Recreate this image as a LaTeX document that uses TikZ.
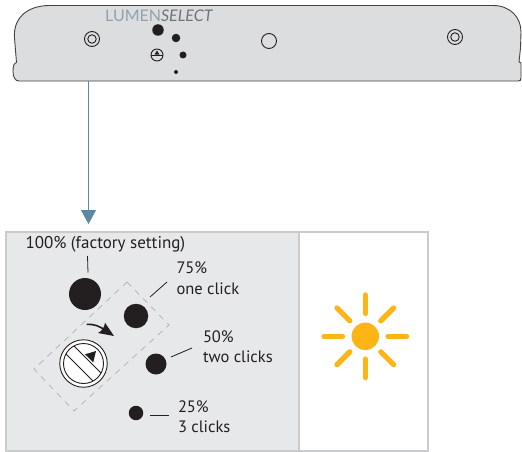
\documentclass[tikz,border=0pt]{standalone}
\usepackage{fontspec}
\setmainfont{PT Sans}
\newfontfamily\brandfont{Lato}
\usetikzlibrary{arrows.meta}
\definecolor{ink}{HTML}{231F20}
\definecolor{housing}{HTML}{DCDDDF}
\definecolor{panelfill}{HTML}{E7E8EA}
\definecolor{panelline}{HTML}{C9CBCD}
\definecolor{steel}{HTML}{5E87A3}
\definecolor{brandblue}{HTML}{8FA3AF}
\definecolor{brandgrey}{HTML}{6D7479}
\definecolor{sunny}{HTML}{FDB515}
\tikzset{
  panel/.style={draw=panelline,line width=2.4pt},
  dot/.style={circle,fill=ink,inner sep=0pt,outer sep=0pt,minimum size=#1},
  ring/.style={circle,draw=ink,line width=0.9pt,inner sep=0pt,minimum size=#1},
  label/.style={anchor=base west,inner sep=0pt,outer sep=0pt,text=ink,font=\fontsize{16.5}{18}\selectfont},
  leader/.style={draw=ink,line width=0.8pt},
  ray/.style={draw=sunny,line width=5.3pt,line cap=round},
}
\begin{document}
\begin{tikzpicture}[x=1pt,y=-1pt]
\useasboundingbox (0,0) rectangle (522,452);
% housing
\draw[fill=housing,draw=ink!85,line width=0.9pt]
  (50,5.5) -- (493,5.5) .. controls (510,5.5) and (521,17) .. (521,32)
  -- (520.5,48) -- (519,62) -- (521,63) -- (521,78) .. controls (521,80.5) and (520,81) .. (518,81)
  -- (19,81) .. controls (15,81) and (13,77) .. (13,71)
  .. controls (13,66) and (14,63) .. (16.5,62.5) -- (14.5,38)
  .. controls (13,20) and (25,5.5) .. (50,5.5) -- cycle;
\node[anchor=base west,inner sep=0pt,font=\brandfont\fontsize{16}{16}\selectfont] (brand) at (105,21.5)
  {\textcolor{brandblue}{LUMEN}\textcolor{brandgrey}{\itshape SELECT}};
\node[ring=15pt] (mountL) at (92,39) {};
\node[ring=8.5pt] (mountLi) at (92,39) {};
\node[ring=15pt] (mountM) at (269,41) {};
\node[ring=15pt] (mountR) at (455,37) {};
\node[ring=8.5pt] (mountRi) at (455,37) {};
\node[dot=11.5pt] (h100) at (158,30) {};
\node[dot=8.5pt] (h75) at (176,38) {};
\node[dot=7pt] (h50) at (183,55) {};
\node[dot=4pt] (h25) at (176,72) {};
\node[ring=12pt] (hknob) at (157,55) {};
\draw[ink,line width=0.8pt] (hknob.west) -- (hknob.east);
\fill[ink] (157,50.5) -- (154.5,54.6) -- (159.5,54.6) -- cycle;
% panels
\node[panel,fill=panelfill,anchor=north west,inner sep=0pt,minimum width=293pt,minimum height=219pt] (left) at (5,231) {};
\node[panel,fill=white,anchor=north west,inner sep=0pt,minimum width=129pt,minimum height=219pt] (right) at (298,231) {};
% connector
\coordinate (armtop) at (88.5,81);
\coordinate (armtip) at (88.5,224);
\draw[steel,line width=0.9pt,-{Triangle[width=15pt,length=14pt]}] (armtop) -- (armtip);
% dashed carrier
\draw[panelline!65!ink!70,line width=0.7pt,dash pattern=on 6pt off 5.5pt]
  (127,282) -- (169,325) -- (74,411) -- (34,369) -- cycle;
% dots
\node[dot=32pt] (d100) at (85,294) {};
\node[dot=24.5pt] (d75) at (136,316) {};
\node[dot=21pt] (d50) at (156,364) {};
\node[dot=14.5pt] (d25) at (136,413) {};
% labels
\node[label,font=\fontsize{17}{18}\selectfont] (t100) at (25.5,248) {100\% (factory setting)};
\node[label] (t75) at (176.5,273.5) {75\%};
\node[label] (t75b) at (176.5,294) {one click};
\node[label] (t50) at (203,342) {50\%};
\node[label] (t50b) at (203,362.5) {two clicks};
\node[label] (t25) at (178,412) {25\%};
\node[label] (t25b) at (178,432.5) {3 clicks};
% leaders
\coordinate (a100) at (87.5,256); \coordinate (b100) at (88,272.5);
\coordinate (a75) at (150,297); \coordinate (b75) at (167,282);
\coordinate (a50) at (171,357); \coordinate (b50) at (192,348);
\coordinate (a25) at (150,415.5); \coordinate (b25) at (168.5,415.5);
\draw[leader] (a100) -- (b100);
\draw[leader] (a75) -- (b75);
\draw[leader] (a50) -- (b50);
\draw[leader] (a25) -- (b25);
% knob
\node[circle,draw=ink,fill=white,line width=0.9pt,inner sep=0pt,minimum size=47.5pt] (knob) at (83.5,363.5) {};
\node[circle,draw=ink,fill=white,line width=0.9pt,inner sep=0pt,minimum size=40pt] (knobi) at (83.5,363.5) {};
\begin{scope}
  \clip (83.5,363.5) circle (20);
  \draw[ink,line width=0.9pt] (71,343) -- (104,376);
  \draw[ink,line width=0.9pt] (63,351) -- (96,384);
\end{scope}
\fill[ink] (85,354.3) -- (96,351) -- (93.3,362.3) -- cycle;
% turn arrow
\draw[ink,line width=1.6pt] (86.7,324.3) .. controls (94,324) and (100,326) .. (106,331);
\fill[ink] (114,336) -- (98,333) .. controls (102,331) and (104.5,327) .. (105,322.7) -- cycle;
% sun
\node[circle,fill=sunny,inner sep=0pt,minimum size=27.5pt] (sun) at (365.3,336.3) {};
\foreach \a in {0,90,180,270}
  \draw[ray] (sun) ++(\a:22.8) -- ++(\a:18.5);
\foreach \a in {45,135,225,315}
  \draw[ray] (sun) ++(\a:22) -- ++(\a:18);
\end{tikzpicture}
\end{document}
